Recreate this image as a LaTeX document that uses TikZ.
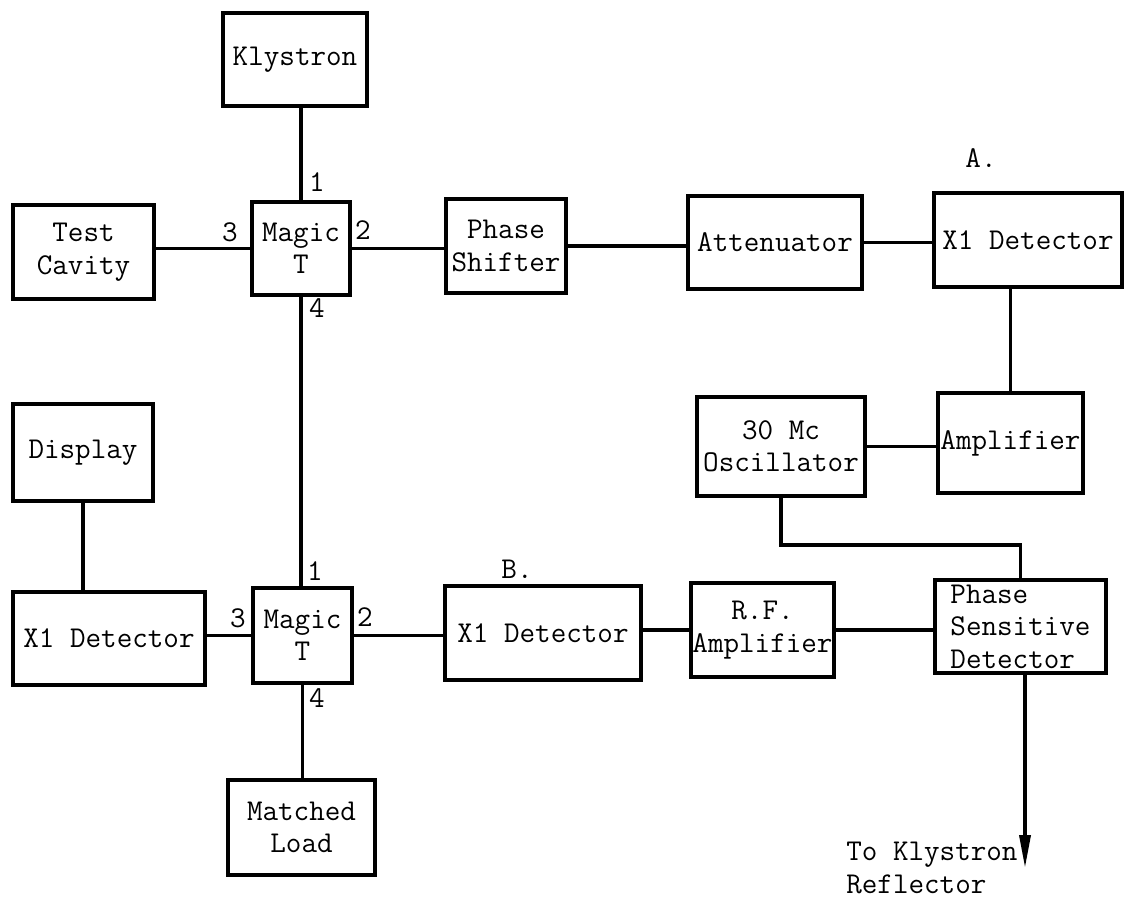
\documentclass[tikz,border=0pt]{standalone}
\usepackage{fontspec}
\usetikzlibrary{arrows.meta}

\begin{document}
\begin{tikzpicture}[x=0.02cm,y=-0.02cm,
  blk/.style={draw,line width=2pt,align=center,inner sep=0pt,font=\ttfamily\fontsize{17.2}{18.5}\selectfont},
  port/.style={inner sep=0pt,font=\ttfamily\fontsize{17.2}{18.5}\selectfont},
  link/.style={line width=2pt}]

  \useasboundingbox (0,0) rectangle (1126,901);

  % Upper Magic T and its arms
  \node [blk,minimum width=2.88cm,minimum height=1.86cm] (klys) at (295,59.5) {Klystron};
  \node [blk,minimum width=1.96cm,minimum height=1.86cm] (mta) at (301,248.5) {Magic\\T};
  \node [blk,minimum width=2.82cm,minimum height=1.88cm] (cav) at (83.5,252) {Test\\Cavity};
  \node [blk,minimum width=2.4cm,minimum height=1.88cm] (shift) at (506,246) {Phase\\Shifter};
  \draw [link] (mta.north |- klys.south) -- (mta.north);
  \draw [link] (cav.east |- mta.west) -- (mta.west);
  \draw [link] (mta.east) -- (shift.west |- mta.east);
  \node [port] (pa1) at (317,182) {1};
  \node [port] (pa2) at (363,230) {2};
  \node [port] (pa3) at (230,232) {3};
  \node [port] (pa4) at (317,308) {4};

  % Reference arm A
  \node [blk,minimum width=3.48cm,minimum height=1.86cm] (att) at (775,242.5) {Attenuator};
  \node [blk,minimum width=3.76cm,minimum height=1.88cm] (deta) at (1028,240) {X1 Detector};
  \node [port] (labA) at (981,158) {A.};
  \draw [link] (shift.east) -- (att.west |- shift.east);
  \draw [link] (att.east) -- (deta.west |- att.east);

  % 30 Mc chain
  \node [blk,minimum width=2.9cm,minimum height=2cm] (amp) at (1010.5,443) {Amplifier};
  \node [blk,minimum width=3.36cm,minimum height=1.98cm] (osc) at (781,446.5) {30 Mc\\Oscillator};
  \draw [link] (amp.north |- deta.south) -- (amp.north);
  \draw [link] (osc.east) -- (amp.west |- osc.east);

  % Lower Magic T and its arms
  \node [blk,minimum width=1.98cm,minimum height=1.9cm] (mtb) at (302.5,635.5) {Magic\\T};
  \node [blk,minimum width=2.8cm,minimum height=1.94cm] (disp) at (83,452.5) {Display};
  \node [blk,minimum width=3.84cm,minimum height=1.86cm] (detl) at (109,638.5) {X1 Detector};
  \node [blk,minimum width=2.94cm,minimum height=1.9cm] (load) at (301.5,827.5) {Matched\\Load};
  \draw [link] (mta.south) -- (mta.south |- mtb.north);
  \draw [link] (disp.south) -- (disp.south |- detl.north);
  \draw [link] (detl.east |- mtb.west) -- (mtb.west);
  \draw [link] (mtb.south) -- (mtb.south |- load.north);
  \node [port] (pb1) at (315,571) {1};
  \node [port] (pb2) at (365,617) {2};
  \node [port] (pb3) at (238,618) {3};
  \node [port] (pb4) at (317,698) {4};

  % Signal arm B
  \node [blk,minimum width=3.92cm,minimum height=1.88cm] (detb) at (543,633) {X1 Detector};
  \node [port] (labB) at (517,569) {B.};
  \node [blk,minimum width=2.86cm,minimum height=1.88cm] (rfa) at (762.5,630) {R.F.\\Amplifier};
  \node [blk,minimum width=3.42cm,minimum height=1.86cm,align=left] (psd) at (1020.5,626.5) {Phase\\Sensitive\\Detector};
  \draw [link] (mtb.east) -- (detb.west |- mtb.east);
  \draw [link] (detb.east |- rfa.west) -- (rfa.west);
  \draw [link] (rfa.east) -- (psd.west |- rfa.east);
  \draw [link] (osc.south) -- ++(0,47) -| (psd.north);

  % Output to reflector
  \coordinate (refl) at (1025,868);
  \draw [link,-{Triangle[length=0.66cm,width=0.22cm]}] (refl |- psd.south) -- (refl);
  \node [port,align=left,anchor=north west] (out) at (846,842) {To Klystron\\Reflector};

\end{tikzpicture}
\end{document}
